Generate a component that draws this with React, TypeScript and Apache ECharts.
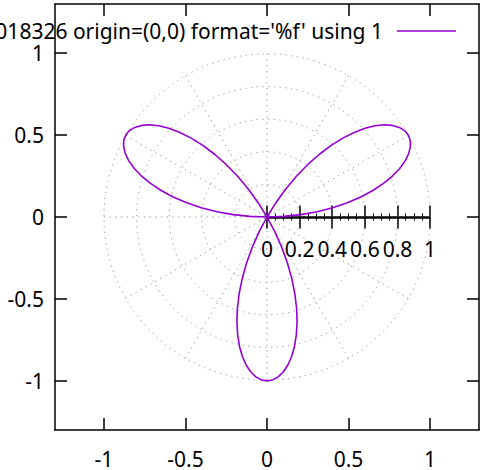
import React, { useEffect, useRef } from "react";
import * as echarts from "echarts";

// sample angles (degrees) and radius values
const thetaDeg = [
  0, 2, 4, 6, 8, 10, 12, 14, 16, 18, 20, 22, 24, 26, 28, 30, 32, 34, 36, 38, 40, 42, 44, 46, 48, 50, 52, 54, 56, 58, 60,
  62, 64, 66, 68, 70, 72, 74, 76, 78, 80, 82, 84, 86, 88, 90, 92, 94, 96, 98, 100, 102, 104, 106, 108, 110, 112, 114, 116, 118, 120,
  122, 124, 126, 128, 130, 132, 134, 136, 138, 140, 142, 144, 146, 148, 150, 152, 154, 156, 158, 160, 162, 164, 166, 168, 170, 172, 174, 176, 178, 180,
];
const rValues = [
  0, 0.105, 0.208, 0.309, 0.407, 0.5, 0.588, 0.669, 0.743, 0.809, 0.866, 0.914, 0.951, 0.978, 0.995, 1, 0.995, 0.978, 0.951, 0.914, 0.866, 0.809, 0.743, 0.669, 0.588, 0.5, 0.407, 0.309, 0.208, 0.105, 0,
  -0.105, -0.208, -0.309, -0.407, -0.5, -0.588, -0.669, -0.743, -0.809, -0.866, -0.914, -0.951, -0.978, -0.995, -1, -0.995, -0.978, -0.951, -0.914, -0.866, -0.809, -0.743, -0.669, -0.588, -0.5, -0.407, -0.309, -0.208, -0.105, 0,
  0.105, 0.208, 0.309, 0.407, 0.5, 0.588, 0.669, 0.743, 0.809, 0.866, 0.914, 0.951, 0.978, 0.995, 1, 0.995, 0.978, 0.951, 0.914, 0.866, 0.809, 0.743, 0.669, 0.588, 0.5, 0.407, 0.309, 0.208, 0.105, 0,
];
const xyTicks = [-1, -0.5, 0, 0.5, 1];
const legendText = "018326 origin=(0,0) format='%f' using 1";

const FONT = "Noto Sans";
const FS = 21;
const PURPLE = "#9400d3";
const GRIDCOL = "#909090";

export default function App() {
  const ref = useRef<HTMLDivElement>(null);
  useEffect(() => {
    if (!ref.current) return;
    const chart = echarts.init(ref.current, undefined, { renderer: "svg" });
    const data = thetaDeg.map((t, i) => {
      const a = (t * Math.PI) / 180;
      return [rValues[i] * Math.cos(a), rValues[i] * Math.sin(a)];
    });
    const L = 55, T = 4, W = 424, H = 426;
    const cx = L + W / 2;
    const cy = T + H / 2;
    const unit = W / 2.6;
    const dotted = { color: GRIDCOL, width: 1, type: [1.2, 4.5] as any };
    const mainAxisCommon = {
      min: -1.3,
      max: 1.3,
      splitLine: { show: false },
      axisLine: { show: true, onZero: false, lineStyle: { color: "#000", width: 1.5 } },
      axisTick: { show: true, inside: true, length: 12, customValues: xyTicks, lineStyle: { color: "#000", width: 1.5 } },
    };
    chart.setOption({
      animation: false,
      grid: [
        { left: L, top: T, width: W, height: H, show: false },
        { left: cx, top: cy - 0.5, width: unit, height: 1, show: false },
      ],
      polar: { center: [cx, cy], radius: unit },
      angleAxis: {
        type: "value",
        min: 0,
        max: 360,
        interval: 30,
        startAngle: 0,
        axisLine: { show: false },
        axisTick: { show: false },
        axisLabel: { show: false },
        splitLine: { show: true, lineStyle: dotted },
      },
      radiusAxis: {
        type: "value",
        min: 0,
        max: 1,
        interval: 0.2,
        axisLine: { show: false },
        axisTick: { show: false },
        axisLabel: { show: false },
        splitLine: { show: true, lineStyle: dotted },
      },
      xAxis: [
        {
          ...mainAxisCommon,
          type: "value",
          gridIndex: 0,
          position: "bottom",
          axisLabel: { customValues: xyTicks, fontFamily: FONT, fontSize: FS, color: "#000", margin: 18 },
        },
        {
          ...mainAxisCommon,
          type: "value",
          gridIndex: 0,
          position: "top",
          axisLabel: { show: false },
        },
        {
          type: "value",
          gridIndex: 1,
          position: "bottom",
          min: 0,
          max: 1,
          interval: 0.2,
          splitLine: { show: false },
          axisLine: { show: true, onZero: false, lineStyle: { color: "#000", width: 1.5 } },
          axisTick: { show: true, inside: false, length: 11, lineStyle: { color: "#000", width: 1.5 } },
          minorTick: { show: true, splitNumber: 4, length: 3, lineStyle: { color: "#000", width: 1 } },
          axisLabel: { fontFamily: FONT, fontSize: FS, color: "#000", margin: 21, showMinLabel: true, showMaxLabel: true },
        },
        {
          type: "value",
          gridIndex: 1,
          position: "top",
          min: 0,
          max: 1,
          interval: 0.2,
          splitLine: { show: false },
          axisLine: { show: true, onZero: false, lineStyle: { color: "#000", width: 1.5 } },
          axisTick: { show: true, inside: false, length: 11, lineStyle: { color: "#000", width: 1.5 } },
          minorTick: { show: true, splitNumber: 4, length: 3, lineStyle: { color: "#000", width: 1 } },
          axisLabel: { show: false },
        },
      ],
      yAxis: [
        {
          ...mainAxisCommon,
          type: "value",
          gridIndex: 0,
          position: "left",
          axisLabel: { customValues: xyTicks, fontFamily: FONT, fontSize: FS, color: "#000", margin: 11 },
        },
        {
          ...mainAxisCommon,
          type: "value",
          gridIndex: 0,
          position: "right",
          axisLabel: { show: false },
        },
        {
          type: "value",
          gridIndex: 1,
          min: 0,
          max: 1,
          show: false,
        },
      ],
      series: [
        {
          type: "line",
          xAxisIndex: 0,
          yAxisIndex: 0,
          data,
          showSymbol: false,
          symbol: "none",
          lineStyle: { color: PURPLE, width: 1.6 },
          z: 5,
        },
      ],
      graphic: [
        {
          type: "text",
          x: 383,
          y: 31,
          z: 10,
          style: {
            text: legendText,
            fontFamily: FONT,
            fontSize: FS,
            fill: "#000",
            align: "right",
            verticalAlign: "middle",
          },
        },
        {
          type: "line",
          z: 10,
          shape: { x1: 397, y1: 31, x2: 456, y2: 31 },
          style: { stroke: PURPLE, lineWidth: 1.5 },
        },
      ],
    });
    return () => chart.dispose();
  }, []);
  return (
    <div
      ref={ref}
      style={{ position: "fixed", left: 0, top: 0, width: 480, height: 470, background: "#fff" }}
    />
  );
}
